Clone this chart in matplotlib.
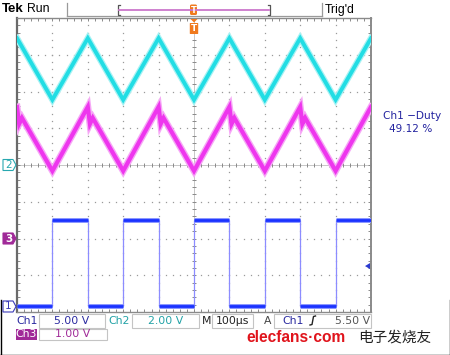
import matplotlib
matplotlib.use("Agg")
import matplotlib.pyplot as plt
from matplotlib.patches import Polygon, Rectangle, FancyBboxPatch
import numpy as np

# ---------------- data read from the screen ----------------
# screen time, 100 us/div, 10 divisions
ch2_time_us = [0, 100, 200, 300, 400, 500, 600, 700, 800, 900, 1000]
ch2_volts = [6.9, 3.55, 6.9, 3.55, 6.9, 3.55, 6.9, 3.55, 6.9, 3.55, 6.9]   # cyan

ch3_time_us = [0, 6, 14, 100, 200, 206, 214, 300, 400, 406, 414, 500,
               600, 606, 614, 700, 800, 806, 814, 900, 1000]
ch3_volts = [3.58, 3.12, 3.28, 1.84, 3.58, 3.12, 3.28, 1.84, 3.58, 3.12, 3.28, 1.84,
             3.58, 3.12, 3.28, 1.84, 3.58, 3.12, 3.28, 1.84, 3.58]              # magenta

ch1_edges_us = [0, 100, 200, 300, 400, 500, 600, 700, 800, 900, 1000]
ch1_levels_v = [0.0, 11.8, 0.0, 11.8, 0.0, 11.8, 0.0, 11.8, 0.0, 11.8]        # blue

channel_names = ["Ch1", "Ch2", "Ch3"]
volts_per_div = [5.0, 2.0, 1.0]
offset_div = [-3.85, 0.0, -2.0]
channel_colors = ["#1a32ff", "#22dde4", "#ee36ee"]
trigger_level_v = 5.5
trigger_time_us = 500
readout_scales = ["5.00 V", "2.00 V", "1.00 V"]
timebase_text = "100\u00b5s"
trigger_text = "5.50 V"
duty_label = "Ch1 \u2212Duty"
duty_value = "49.12 %"

W, H = 450, 355
fig = plt.figure(figsize=(W / 100, H / 100), dpi=100)
fig.patch.set_facecolor("white")

# pixel -> figure helper axes for header / footer
ov = fig.add_axes([0, 0, 1, 1])
ov.set_xlim(0, W)
ov.set_ylim(H, 0)
ov.axis("off")
ov.patch.set_alpha(0)

ax = fig.add_axes([17 / W, 1 - 312 / H, 354 / W, 294 / H])
ax.set_xlim(0, 1000)
ax.set_ylim(-4, 4)
ax.set_facecolor("white")
PX_T = 1000 / 354.0      # us per pixel
PX_D = 8 / 294.0         # div per pixel

# spines / border ticks
for s in ax.spines.values():
    s.set_color("#8a8a8a")
    s.set_linewidth(1.0)
ax.spines["left"].set_color("#6a6a6a")
ax.spines["left"].set_linewidth(1.6)
ax.spines["right"].set_linewidth(1.4)
ax.set_xticks(np.arange(0, 1001, 100))
ax.set_xticks(np.arange(0, 1001, 20), minor=True)
ax.set_yticks(np.arange(-4, 4.01, 1))
ax.set_yticks(np.arange(-4, 4.01, 0.2), minor=True)
ax.tick_params(which="both", direction="in", top=True, right=True, left=True, bottom=True,
               length=2.2, width=0.7, color="#8a8a8a", labelbottom=False, labelleft=False)

# dotted graticule
ymin_dots = np.arange(-4, 4.01, 0.2)
xmin_dots = np.arange(0, 1001, 20)
for xd in range(100, 1000, 100):
    if xd == 500:
        continue
    ax.plot([xd] * len(ymin_dots), ymin_dots, ls="none", marker="s", ms=0.9,
            mew=0, color="#9a9a9a", zorder=1)
for yd in range(-3, 4):
    if yd == 0:
        continue
    ax.plot(xmin_dots, [yd] * len(xmin_dots), ls="none", marker="s", ms=0.9,
            mew=0, color="#9a9a9a", zorder=1)
# centre cross lines
ax.plot(xmin_dots, [0] * len(xmin_dots), ls="-", lw=0.5, color="#b0b0b0", zorder=1)
ax.plot(xmin_dots, [0] * len(xmin_dots), ls="none", marker="|", ms=3.2, mew=0.7,
        color="#8a8a8a", zorder=1)
ax.plot([500] * len(ymin_dots), ymin_dots, ls="-", lw=0.5, color="#b0b0b0", zorder=1)
ax.plot([500] * len(ymin_dots), ymin_dots, ls="none", marker="_", ms=3.2, mew=0.7,
        color="#8a8a8a", zorder=1)


def to_div(volts, ch):
    return offset_div[ch] + np.asarray(volts, dtype=float) / volts_per_div[ch]


# ---- Ch2 cyan ----
y2 = to_div(ch2_volts, 1)
ax.plot(ch2_time_us, y2, color="#a8f2f4", lw=4.6, solid_joinstyle="miter", zorder=3)
ax.plot(ch2_time_us, y2, color=channel_colors[1], lw=2.8, solid_joinstyle="miter", zorder=4)

# ---- Ch3 magenta ----
y3 = to_div(ch3_volts, 2)
ax.plot(ch3_time_us, y3, color="#f6a8f6", lw=5.0, solid_joinstyle="miter", zorder=3)
ax.plot(ch3_time_us, y3, color=channel_colors[2], lw=3.0, solid_joinstyle="miter", zorder=4)

# ---- Ch1 blue square ----
lv = to_div(ch1_levels_v, 0)
ax.vlines(ch1_edges_us[1:-1], lv.min(), lv.max(), color="#8c8cff", lw=0.9, zorder=3)
for i in range(len(ch1_levels_v)):
    ax.plot(ch1_edges_us[i:i + 2], [lv[i], lv[i]], color="#8c98ff", lw=3.6,
            solid_capstyle="butt", zorder=3)
    ax.plot(ch1_edges_us[i:i + 2], [lv[i], lv[i]], color=channel_colors[0], lw=2.0,
            solid_capstyle="butt", zorder=4)

# ---- channel ground markers (left) ----
marker_style = [("1", "white", "#3a3ab8", "#3a3ab8"),
                ("2", "white", "#28a8b0", "#28a8b0"),
                ("3", "#a02a98", "#a02a98", "white")]
for ch in range(3):
    yc = offset_div[ch]
    lab, fc, ec, tc = marker_style[ch]
    x0, x1, x2 = -14 * PX_T, -4 * PX_T, -1 * PX_T
    hh = 5.5 * PX_D
    poly = Polygon([[x0, yc - hh], [x1, yc - hh], [x2, yc], [x1, yc + hh], [x0, yc + hh]],
                   closed=True, fc=fc, ec=ec, lw=0.8, clip_on=False, zorder=6)
    ax.add_patch(poly)
    ax.text((x0 + x1) / 2 + 0.5 * PX_T, yc, lab, color=tc, fontsize=7.5, ha="center",
            va="center", clip_on=False, zorder=7, fontweight="bold" if ch == 2 else "normal")

# ---- trigger level arrow (right) ----
ytrig = to_div([trigger_level_v], 0)[0]
ax.add_patch(Polygon([[1000 - 6 * PX_T, ytrig], [1000 - 1 * PX_T, ytrig + 3 * PX_D],
                      [1000 - 1 * PX_T, ytrig - 3 * PX_D]], closed=True, fc="#2a3ad0",
                     ec="none", clip_on=False, zorder=6))

# ---- trigger position marker (top) ----
tx = trigger_time_us
ax.add_patch(Polygon([[tx - 3.5 * PX_T, 4 - 1 * PX_D], [tx + 3.5 * PX_T, 4 - 1 * PX_D],
                      [tx, 4 - 4.5 * PX_D]], closed=True, fc="#f07a1e", ec="none",
                     clip_on=False, zorder=8))
ax.add_patch(FancyBboxPatch((tx - 4.2 * PX_T, 4 - 16 * PX_D), 8.4 * PX_T, 11 * PX_D,
                            boxstyle="round,pad=0,rounding_size=1.5", fc="#f07a1e",
                            ec="none", clip_on=False, zorder=8, mutation_aspect=PX_D / PX_T))
ax.text(tx, 4 - 10.5 * PX_D, "T", color="white", fontsize=6.5, fontweight="bold",
        ha="center", va="center", zorder=9, clip_on=False)

# ---------------- header ----------------
ov.text(2, 9.5, "Tek", fontsize=9.5, fontweight="bold", family="Liberation Sans",
        ha="left", va="center", color="black")
ov.text(27, 9.5, "Run", fontsize=8.8, family="Liberation Sans", ha="left", va="center",
        color="black")
ov.text(325, 9.5, "Trig'd", fontsize=8.8, family="Liberation Sans", ha="left",
        va="center", color="black")
ov.plot([67, 67], [3, 16], color="#9a9a9a", lw=0.9)
ov.plot([67, 322], [15.5, 15.5], color="#9a9a9a", lw=0.9)
ov.plot([322, 322], [3, 16], color="#9a9a9a", lw=0.9)
ov.plot([120, 118, 118, 120], [4.5, 4.5, 15, 15], color="#555555", lw=0.9)
ov.plot([268, 270, 270, 268], [4.5, 4.5, 15, 15], color="#555555", lw=0.9)
ov.plot([119, 269], [10, 10], color="#cc77cc", lw=1.3)
ov.add_patch(FancyBboxPatch((190, 4.5), 7, 10.5, boxstyle="round,pad=0,rounding_size=1.5",
                            fc="#f07a1e", ec="none"))
ov.text(193.5, 10.2, "T", color="white", fontsize=6, fontweight="bold", ha="center",
        va="center")

# ---------------- footer readouts ----------------
fs = 7.8
box_ec = "#c4c4c4"
r1y, r2y = 320.5, 334.0
ov.text(16, r1y, channel_names[0], color="#2a2aa0", fontsize=fs, ha="left", va="center")
ov.add_patch(Rectangle((39, 313.5), 66, 14, fc="white", ec=box_ec, lw=0.8))
ov.text(72, r1y, readout_scales[0], color="#2a2aa0", fontsize=fs, ha="center", va="center")
ov.text(108, r1y, channel_names[1], color="#22a2a6", fontsize=fs, ha="left", va="center")
ov.add_patch(Rectangle((132, 313.5), 67, 14, fc="white", ec=box_ec, lw=0.8))
ov.text(165.5, r1y, readout_scales[1], color="#22a2a6", fontsize=fs, ha="center", va="center")
ov.text(202, r1y, "M", color="#222222", fontsize=fs, ha="left", va="center")
ov.add_patch(Rectangle((212, 313.5), 41, 14, fc="white", ec=box_ec, lw=0.8))
ov.text(232.5, r1y, timebase_text, color="#222222", fontsize=fs, ha="center", va="center")
ov.text(264, r1y, "A", color="#444444", fontsize=fs, ha="left", va="center")
ov.add_patch(Rectangle((274, 313.5), 97, 14, fc="white", ec=box_ec, lw=0.8))
ov.text(282, r1y, channel_names[0], color="#2a2aa0", fontsize=fs, ha="left", va="center")
ov.plot([310, 312, 313.5, 315.5], [325, 324.5, 316.5, 316], color="#222222", lw=1.0)
ov.text(370, r1y, trigger_text, color="#555555", fontsize=fs, ha="right", va="center")

ov.add_patch(Rectangle((15.5, 328.5), 21.5, 11, fc="#a02a98", ec="none"))
ov.text(26.3, r2y, channel_names[2], color="white", fontsize=fs, ha="center", va="center")
ov.add_patch(Rectangle((39, 328.5), 68, 11, fc="white", ec=box_ec, lw=0.8))
ov.text(73, r2y, readout_scales[2], color="#a02a98", fontsize=fs, ha="center", va="center")

# duty measurement
ov.text(412, 116, duty_label, color="#2424a0", fontsize=7.6, ha="center", va="center")
ov.text(411, 128.5, duty_value, color="#2424a0", fontsize=7.6, ha="center", va="center")

# watermark
ov.text(246, 337, "elecfans\u00b7com", color="#e0141c", fontsize=11.2,
        family="Liberation Sans", fontweight="bold", ha="left", va="center")
ov.text(358, 337.5, "\u7535\u5b50\u53d1\u70e7\u53cb", color="#222222", fontsize=10.5,
        family="Noto Sans CJK SC", ha="left", va="center")

# outer frame at bottom strip
ov.plot([0.5, 0.5], [300, 354.5], color="black", lw=1.0)
ov.plot([449.5, 449.5], [300, 354.5], color="black", lw=1.0)
ov.plot([0, 450], [354.5, 354.5], color="black", lw=1.0)

fig.savefig("out.png", dpi=100, facecolor="white")
